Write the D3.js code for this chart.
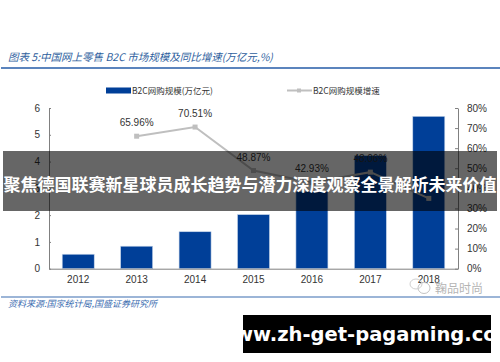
<!DOCTYPE html>
<html>
<head>
<meta charset="utf-8">
<script src="https://cdn.jsdelivr.net/npm/d3@7"></script>
<style>
html, body { margin: 0; padding: 0; background: #fff; }
svg { display: block; }
text { font-family: "Liberation Sans", "Noto Sans CJK SC", sans-serif; }
.cjk { font-family: "Noto Sans CJK SC", sans-serif; }
.axis text { font-size: 10px; fill: #333; }
</style>
</head>
<body>
<svg id="chart" width="500" height="362"></svg>
<script>
var years = ['2012', '2013', '2014', '2015', '2016', '2017', '2018'];
var sizeValues = [0.54, 0.84, 1.38, 2.02, 2.88, 4.22, 5.69];
var growthValues = [null, 65.96, 70.51, 48.87, 42.93, 48.06, 35];
var growthLabels = [null, '65.96%', '70.51%', '48.87%', '42.93%', '48.06%', null];
var leftTicks = [0, 1, 2, 3, 4, 5, 6];
var rightTicks = [0, 10, 20, 30, 40, 50, 60, 70, 80];

var titleText = '图表 5:中国网上零售 B2C 市场规模及同比增速(万亿元,%)';
var sourceText = '资料来源:国家统计局,国盛证券研究所';
var legendNames = ['B2C网购规模(万亿元)', 'B2C网购规模增速'];
var bannerText = '聚焦德国联赛新星球员成长趋势与潜力深度观察全景解析未来价值';
var urlText = 'www.zh-get-pagaming.com';
var watermarkText = '鞠品时尚';

var blue = '#003f98';
var grey = '#bfbfbf';
var axisGrey = '#808080';

var svg = d3.select('#chart');

var x = d3.scaleBand().domain(years).range([49, 458]);
var yLeft = d3.scaleLinear().domain([0, 6]).range([268.7, 108]);
var yRight = d3.scaleLinear().domain([0, 80]).range([268.7, 108]);

// header
svg.append('text')
    .attr('class', 'cjk')
    .attr('x', 8).attr('y', 61)
    .attr('font-size', 10.5)
    .attr('font-style', 'italic')
    .attr('fill', '#2f5f9e')
    .text(titleText);
svg.append('rect')
    .attr('x', 1).attr('y', 67)
    .attr('width', 499).attr('height', 2)
    .attr('fill', '#5b84bd');

// legend
svg.append('rect')
    .attr('x', 106).attr('y', 87.5)
    .attr('width', 25).attr('height', 6)
    .attr('fill', blue);
svg.append('text')
    .attr('class', 'cjk')
    .attr('x', 132).attr('y', 94)
    .attr('font-size', 8.5)
    .attr('fill', '#333')
    .text(legendNames[0]);
svg.append('line')
    .attr('x1', 287).attr('x2', 312)
    .attr('y1', 90.5).attr('y2', 90.5)
    .attr('stroke', grey).attr('stroke-width', 2);
svg.append('rect')
    .attr('x', 297).attr('y', 88.5)
    .attr('width', 4).attr('height', 4)
    .attr('fill', grey);
svg.append('text')
    .attr('class', 'cjk')
    .attr('x', 313).attr('y', 94)
    .attr('font-size', 8.5)
    .attr('fill', '#333')
    .text(legendNames[1]);

// bars
svg.selectAll('.bar')
    .data(years)
    .enter().append('rect')
    .attr('class', 'bar')
    .attr('x', function(d){ return x(d) + x.bandwidth() / 2 - 16; })
    .attr('width', 32)
    .attr('y', function(d, i){ return yLeft(sizeValues[i]); })
    .attr('height', function(d, i){ return yLeft(0) - yLeft(sizeValues[i]); })
    .attr('fill', blue)
    .attr('stroke', '#c5d5ea')
    .attr('stroke-width', 0.6);

// axes
var axisLeft = d3.axisLeft(yLeft).tickValues(leftTicks).tickFormat(d3.format('d')).tickSize(0).tickPadding(9);
var axisRight = d3.axisRight(yRight).tickValues(rightTicks).tickFormat(function(d){ return d + '%'; }).tickSize(0).tickPadding(9);
var axisBottom = d3.axisBottom(x).tickSize(0).tickPadding(7);

var gLeft = svg.append('g').attr('class', 'axis').attr('transform', 'translate(49,0)').call(axisLeft);
var gRight = svg.append('g').attr('class', 'axis').attr('transform', 'translate(458,0)').call(axisRight);
var gBottom = svg.append('g').attr('class', 'axis').attr('transform', 'translate(0,268.7)').call(axisBottom);
[gLeft, gRight, gBottom].forEach(function(g){
    g.select('.domain').attr('stroke', axisGrey).attr('stroke-width', 1);
});
gLeft.selectAll('.tick line').attr('x2', 2).attr('stroke', axisGrey);
gRight.selectAll('.tick line').attr('x2', -3).attr('stroke', axisGrey);

// growth line
var pts = years.map(function(d, i){ return { year: d, value: growthValues[i], label: growthLabels[i] }; })
    .filter(function(d){ return d.value !== null; });
var line = d3.line()
    .x(function(d){ return x(d.year) + x.bandwidth() / 2; })
    .y(function(d){ return yRight(d.value); });
svg.append('path')
    .datum(pts)
    .attr('d', line)
    .attr('fill', 'none')
    .attr('stroke', grey)
    .attr('stroke-width', 2);
svg.selectAll('.pt')
    .data(pts)
    .enter().append('rect')
    .attr('class', 'pt')
    .attr('x', function(d){ return x(d.year) + x.bandwidth() / 2 - 2.5; })
    .attr('y', function(d){ return yRight(d.value) - 2.5; })
    .attr('width', 5).attr('height', 5)
    .attr('fill', grey);
svg.selectAll('.pt-label')
    .data(pts.filter(function(d){ return d.label; }))
    .enter().append('text')
    .attr('class', 'pt-label')
    .attr('x', function(d){ return x(d.year) + x.bandwidth() / 2; })
    .attr('y', function(d){ return yRight(d.value) - 10; })
    .attr('text-anchor', 'middle')
    .attr('font-size', 10)
    .attr('fill', '#333')
    .text(function(d){ return d.label; });

// footer
svg.append('rect')
    .attr('x', 1).attr('y', 296.5)
    .attr('width', 499).attr('height', 1)
    .attr('fill', '#3b6db0');
svg.append('text')
    .attr('class', 'cjk')
    .attr('x', 8).attr('y', 307)
    .attr('font-size', 9)
    .attr('font-style', 'italic')
    .attr('fill', '#3b6db0')
    .text(sourceText);

// watermark
svg.append('text')
    .attr('class', 'cjk')
    .attr('x', 435).attr('y', 293)
    .attr('font-size', 12)
    .attr('fill', '#b5b5b5')
    .text(watermarkText);
svg.append('ellipse')
    .attr('cx', 424).attr('cy', 288).attr('rx', 6).attr('ry', 5.5)
    .attr('fill', '#fff').attr('stroke', '#c4c4c4');
svg.append('ellipse')
    .attr('cx', 416).attr('cy', 284).attr('rx', 6).attr('ry', 5)
    .attr('fill', 'none').attr('stroke', '#d0d0d0');

// banner over the chart
svg.append('rect')
    .attr('x', 3).attr('y', 151)
    .attr('width', 494).attr('height', 60)
    .attr('fill', '#000')
    .attr('fill-opacity', 0.6);
svg.append('text')
    .attr('class', 'cjk')
    .attr('x', 250).attr('y', 191)
    .attr('text-anchor', 'middle')
    .attr('font-size', 17)
    .attr('font-weight', 700)
    .attr('fill', '#fff')
    .text(bannerText);

// url box
svg.append('rect')
    .attr('x', 243).attr('y', 315)
    .attr('width', 248).attr('height', 38)
    .attr('fill', '#000');
svg.append('text')
    .attr('x', 367).attr('y', 341)
    .attr('text-anchor', 'middle')
    .attr('font-size', 19.5)
    .attr('font-weight', 700)
    .style('font-family', '"DejaVu Sans", sans-serif')
    .attr('fill', '#fff')
    .text(urlText);
</script>
</body>
</html>
